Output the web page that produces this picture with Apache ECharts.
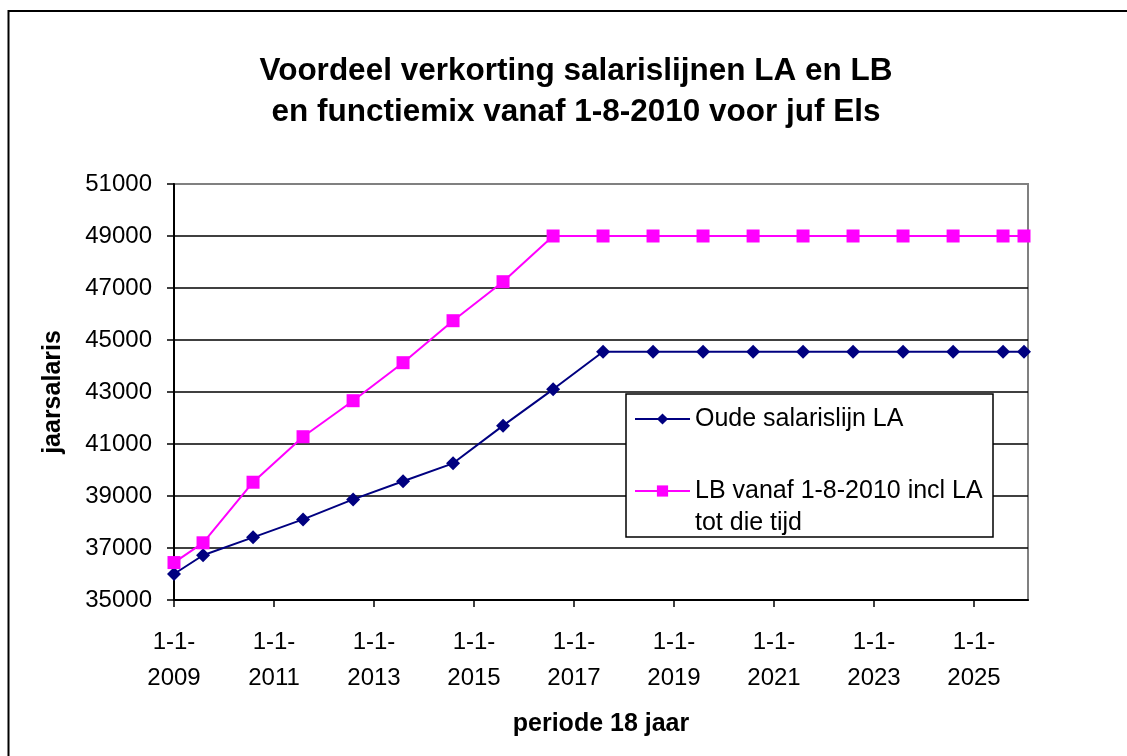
<!DOCTYPE html>
<html>
<head>
<meta charset="utf-8">
<script src="https://cdn.jsdelivr.net/npm/echarts@6/dist/echarts.min.js"></script>
<style>
html,body{margin:0;padding:0;background:#fff;}
#chart{width:1127px;height:756px;}
</style>
</head>
<body>
<div id="chart"></div>
<script>
// ---- data ----
var dates = ['2009-01-01','2009-08-01','2010-08-01','2011-08-01','2012-08-01','2013-08-01','2014-08-01','2015-08-01','2016-08-01','2017-08-01','2018-08-01','2019-08-01','2020-08-01','2021-08-01','2022-08-01','2023-08-01','2024-08-01','2025-08-01','2026-01-01'];
var oudeLA = [36000,36720,37410,38100,38870,39565,40257,41705,43103,44550,44550,44550,44550,44550,44550,44550,44550,44550,44550];
var lbVanaf = [36440,37200,39530,41280,42665,44127,45742,47242,49000,49000,49000,49000,49000,49000,49000,49000,49000,49000,49000];
var seriesNames = ['Oude salarislijn LA','LB vanaf 1-8-2010 incl LA tot die tijd'];
var legendLabels = ['Oude salarislijn LA','LB vanaf 1-8-2010 incl LA\ntot die tijd'];
var xTickYears = [2009,2011,2013,2015,2017,2019,2021,2023,2025];
var xMaxYear = 2026.08;
var yTicks = [35000,37000,39000,41000,43000,45000,47000,49000,51000];
var titleText = 'Voordeel verkorting salarislijnen LA en LB\nen functiemix vanaf 1-8-2010 voor juf Els';
var xName = 'periode 18 jaar';
var yName = 'jaarsalaris';

// ---- helpers ----
var X_BASE = xTickYears[0];
var Y_BASE = yTicks[0];
var Y_STEP = yTicks[1] - yTicks[0];
function toYear(s){
  var p = s.split('-').map(Number);
  var y = p[0];
  var t = Date.UTC(y, p[1]-1, p[2]);
  var a = Date.UTC(y,0,1), b = Date.UTC(y+1,0,1);
  return y + (t-a)/(b-a);
}
function build(vals){
  return dates.map(function(d,i){ return [toYear(d)-X_BASE, vals[i]-Y_BASE]; });
}
var FONT = '"Liberation Sans", Arial, sans-serif';

var chart = echarts.init(document.getElementById('chart'), null, {renderer:'canvas'});
chart.setOption({
  backgroundColor:'#fff',
  animation:false,
  textStyle:{fontFamily:FONT, color:'#000'},
  title:{
    text:titleText,
    left:576,
    textAlign:'center',
    top:51,
    padding:0,
    textStyle:{fontFamily:FONT, fontSize:31.5, fontWeight:'bold', color:'#000', lineHeight:41}
  },
  graphic:[
    {type:'rect', shape:{x:8.5, y:11, width:1300, height:900}, style:{fill:'none', stroke:'#000', lineWidth:2}, z:0, silent:true},
    {type:'rect', shape:{x:626, y:394, width:367, height:143}, style:{fill:'#fff', stroke:'#000', lineWidth:1.5}, z:3, silent:true}
  ],
  legend:[
    {
      data:[seriesNames[0]], orient:'vertical', left:634, top:403, padding:0,
      itemWidth:55, itemHeight:14, z:5,
      formatter:function(n){ return legendLabels[seriesNames.indexOf(n)]; },
      textStyle:{fontFamily:FONT, fontSize:25, color:'#000', lineHeight:32}
    },
    {
      data:[seriesNames[1]], orient:'vertical', left:634, top:443, padding:0,
      itemWidth:55, itemHeight:14, z:5,
      formatter:function(n){ return ' \n' + legendLabels[seriesNames.indexOf(n)]; },
      textStyle:{fontFamily:FONT, fontSize:25, color:'#000', lineHeight:32}
    }
  ],
  grid:{left:174, right:99, top:184, bottom:156, show:true, borderColor:'#808080', borderWidth:2, backgroundColor:'transparent'},
  xAxis:{
    type:'value', min:0, max:xMaxYear-X_BASE, interval:2,
    name:xName, nameLocation:'middle', nameGap:112,
    nameTextStyle:{fontFamily:FONT, fontSize:25, fontWeight:'bold', color:'#000'},
    axisLine:{show:true, onZero:false, lineStyle:{color:'#000', width:2}},
    axisTick:{show:true, inside:false, length:7, lineStyle:{color:'#000', width:1.5},
      customValues:xTickYears.map(function(y){return y-X_BASE;})},
    axisLabel:{fontFamily:FONT, fontSize:24, color:'#000', margin:24, lineHeight:36,
      customValues:xTickYears.map(function(y){return y-X_BASE;}),
      formatter:function(v){ return '1-1-\n' + Math.round(v + X_BASE); }},
    splitLine:{show:false}
  },
  yAxis:{
    type:'value', min:0, max:yTicks[yTicks.length-1]-Y_BASE, interval:Y_STEP,
    name:yName, nameLocation:'middle', nameGap:108, nameRotate:90,
    nameTextStyle:{fontFamily:FONT, fontSize:25, fontWeight:'bold', color:'#000'},
    axisLine:{show:true, onZero:false, lineStyle:{color:'#000', width:2}},
    axisTick:{show:true, inside:false, length:7, lineStyle:{color:'#000', width:1.5}},
    axisLabel:{fontFamily:FONT, fontSize:24, color:'#000', margin:22,
      formatter:function(v){ return String(v + Y_BASE); }},
    splitLine:{show:true, showMinLine:false, showMaxLine:false, lineStyle:{color:'#000', width:1.5}}
  },
  series:[
    {
      name:seriesNames[0], type:'line', data:build(oudeLA),
      symbol:'diamond', symbolSize:14, showAllSymbol:true,
      lineStyle:{color:'#000080', width:2}, itemStyle:{color:'#000080'}, z:2
    },
    {
      name:seriesNames[1], type:'line', data:build(lbVanaf),
      symbol:'rect', symbolSize:13, showAllSymbol:true,
      lineStyle:{color:'#FF00FF', width:2}, itemStyle:{color:'#FF00FF'}, z:2
    }
  ]
});
</script>
</body>
</html>
